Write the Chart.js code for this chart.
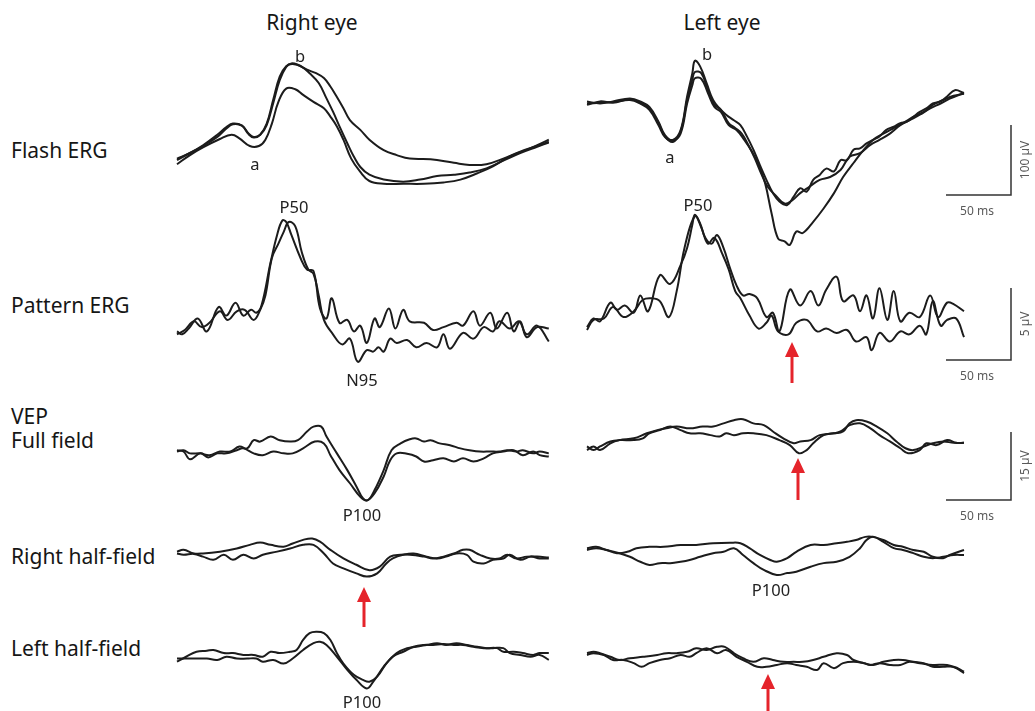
<!DOCTYPE html>
<html>
<head>
<meta charset="utf-8">
<script src="https://cdn.jsdelivr.net/npm/chart.js@4.4.0/dist/chart.umd.min.js"></script>
<style>
  body { margin: 0; background: #fff; width: 1035px; height: 711px; position: relative; overflow: hidden;
         font-family: "Noto Sans", "DejaVu Sans", sans-serif; color: #161616; }
  canvas { position: absolute; }
  .lbl { position: absolute; white-space: nowrap; line-height: 1; }
  .title { font-size: 21px; transform: translate(-50%, -50%); }
  .row { font-size: 21px; transform: translateY(-50%); }
  .peak { font-size: 16.5px; transform: translate(-50%, -50%); color: #222; }
  #overlay { position: absolute; left: 0; top: 0; pointer-events: none; }
  #overlay text { font-family: "Noto Sans", sans-serif; font-size: 12px; fill: #5a5a5a; }
</style>
</head>
<body>
<script>
// Waveforms: each point is [time ms, amplitude µV]
// Flash ERG, right eye (3 sweeps)
const flashRightA = [[0,0],[10,10],[20,20],[31,33],[38,45],[43,51],[50,49],[55,38],[59,33],[64,36],[69,50],[74,81],[79,114],[84,133],[88,138],[93,136],[100,129],[107,124],[113,117],[118,105],[123,90],[128,74],[133,57],[141,43],[148,29],[159,14],[169,7],[179,2],[195,1],[213,-4],[225,-7],[238,-6],[251,2],[264,12],[277,20],[286,26]];
const flashRightB = [[0,2],[10,10],[20,21],[31,36],[38,47],[43,52],[50,49],[55,37],[59,32],[64,36],[69,52],[74,86],[79,119],[84,134],[89,137],[96,133],[102,124],[109,110],[115,88],[120,69],[125,48],[131,24],[136,5],[141,-10],[148,-21],[159,-28],[174,-31],[187,-28],[200,-23],[213,-21],[225,-18],[238,-12],[251,-1],[264,10],[277,19],[286,25]];
const flashRightC = [[0,-6],[10,7],[20,18],[33,30],[42,36],[48,31],[56,20],[63,20],[68,29],[73,52],[78,83],[84,102],[91,101],[97,93],[105,83],[113,74],[118,62],[123,48],[128,29],[134,2],[141,-17],[148,-30],[159,-34],[174,-34],[190,-34],[205,-32],[218,-28],[231,-19],[243,-9],[256,5],[272,17],[286,29]];

// Flash ERG, left eye (3 sweeps)
const flashLeftA = [[0,-2],[10,-5],[20,-2],[33,2],[41,-2],[48,-10],[55,-31],[60,-50],[66,-57],[72,-43],[77,5],[81,38],[83,56],[87,48],[92,24],[97,0],[102,-12],[107,-21],[113,-29],[118,-36],[123,-52],[128,-71],[133,-93],[138,-114],[143,-133],[148,-145],[154,-150],[159,-138],[164,-126],[169,-131],[174,-114],[179,-107],[184,-98],[190,-102],[195,-86],[200,-86],[205,-71],[210,-69],[215,-62],[220,-57],[225,-52],[230,-43],[236,-38],[241,-33],[246,-31],[251,-24],[256,-17],[261,-12],[266,-5],[272,-2],[277,5],[283,14],[290,10]];
const flashLeftB = [[0,-7],[10,-2],[20,-4],[33,1],[41,-4],[48,-12],[55,-33],[60,-52],[66,-60],[72,-45],[77,0],[81,29],[83,40],[88,38],[93,14],[98,-7],[103,-14],[109,-33],[114,-40],[119,-48],[124,-64],[129,-83],[134,-105],[139,-124],[146,-138],[152,-148],[158,-143],[164,-133],[171,-124],[179,-114],[187,-110],[195,-100],[202,-81],[210,-76],[218,-64],[225,-57],[233,-48],[241,-36],[248,-29],[256,-21],[264,-12],[272,-5],[279,2],[290,10]];
const flashLeftC = [[0,-5],[10,-4],[20,-3],[33,0],[41,-5],[48,-14],[55,-36],[60,-53],[66,-58],[72,-48],[77,-5],[81,21],[83,31],[88,30],[93,10],[98,-10],[103,-17],[109,-36],[115,-43],[121,-57],[127,-74],[132,-93],[137,-119],[142,-162],[147,-198],[152,-202],[156,-207],[161,-188],[166,-190],[174,-174],[182,-155],[190,-133],[197,-110],[205,-90],[213,-71],[220,-57],[228,-48],[236,-40],[243,-33],[251,-24],[259,-17],[266,-7],[274,0],[282,6],[290,9]];

// Pattern ERG
const patternRightA = [[0,-0.1],[4,-0.3],[9,0.1],[16,0.8],[23,-0.1],[32,1.6],[38,1.0],[45,1.9],[51,1.0],[57,1.4],[61,1.2],[65,1.7],[72,4.7],[77,6.6],[81,7.6],[84,7.5],[88,6.6],[95,5.0],[100,4.2],[105,4.1],[110,1.5],[115,0.8],[119,2.2],[125,0.5],[131,0.7],[136,-0.1],[141,0.3],[146,-0.9],[152,0.8],[156,0.2],[163,1.5],[168,0.1],[174,1.4],[179,0.6],[190,0.5],[197,0],[205,0.2],[215,0.5],[220,0.3],[228,1.3],[233,0.3],[241,1.2],[246,0.1],[254,1.2],[259,-0.1],[264,0.6],[269,-0.5],[277,0.2],[286,0.1]];
const patternRightB = [[0,-0.3],[6,0],[13,0.6],[19,0.2],[25,0.5],[33,1.3],[39,0.7],[46,1.3],[52,1.4],[59,0.7],[64,1.4],[68,2.4],[73,5.0],[78,6.0],[82,6.8],[86,7.5],[91,7.2],[96,5.4],[101,4.2],[105,3.9],[109,2.4],[113,0.7],[120,-0.3],[127,-1.0],[133,-0.6],[139,-2.2],[146,-1.4],[151,-1.5],[155,-1.2],[159,-1.5],[164,-0.6],[169,-0.9],[177,-0.7],[184,-1.2],[192,-0.9],[200,-1.2],[205,-0.3],[210,-1.3],[220,-0.2],[228,-0.6],[236,0.2],[243,-0.1],[248,0.6],[256,0.1],[263,0.6],[269,-0.3],[277,0.3],[286,-0.8]];
const patternLeftA = [[0,0.2],[5,0.8],[10,0.6],[18,1.9],[23,1.4],[29,1.7],[36,1.2],[41,2.4],[47,1.3],[56,3.8],[64,3.2],[72,4.5],[77,5.7],[81,7.3],[83,8.0],[87,7.4],[91,6.4],[96,6.0],[100,6.6],[105,5.7],[110,4.3],[115,3.1],[120,2.4],[125,2.5],[131,2.2],[138,0.9],[143,1.2],[148,-0.1],[156,2.8],[164,1.7],[172,2.7],[178,1.7],[184,2.8],[192,3.7],[197,2.0],[205,2.4],[210,1.3],[215,2.4],[220,0.8],[225,2.9],[231,0.7],[236,2.7],[241,0.6],[248,1.2],[256,0.9],[264,2.4],[270,0.9],[277,1.9],[282,1.8],[290,1.3]];
const patternLeftB = [[0,0],[5,0.7],[13,0.8],[20,1.6],[28,0.9],[36,1.3],[43,2.1],[50,2.2],[56,2.0],[63,0.9],[69,2.7],[75,5.7],[83,7.9],[88,7.1],[93,6.0],[98,6.4],[104,5.3],[109,4.2],[114,2.7],[118,2.2],[125,1.0],[132,0.1],[138,0.5],[142,1.0],[147,-0.1],[155,-0.3],[161,0.5],[169,0.7],[177,-0.1],[184,0.1],[192,-0.2],[200,0],[207,-0.8],[215,-0.5],[219,-1.4],[225,-0.2],[233,-0.8],[241,-0.1],[248,-0.3],[256,0.3],[261,-0.3],[266,2.0],[272,0.3],[277,0.7],[284,0.8],[290,-0.5]];

// VEP, full field
const vepFullRightA = [[0,0.1],[5,0.4],[10,-0.3],[18,-0.3],[25,-0.7],[33,0.1],[41,0.1],[48,1.2],[54,0.8],[59,2.6],[64,2.3],[72,3.4],[79,2.6],[87,2.3],[93,2.6],[100,4.5],[105,5.6],[111,5.6],[115,3.4],[123,-0.3],[131,-4.0],[138,-7.6],[143,-10.2],[147,-10.6],[152,-8.4],[159,-4.0],[165,0.4],[172,1.9],[179,2.8],[184,3.0],[190,2.3],[195,2.6],[202,1.9],[210,1.5],[218,0.8],[225,0.4],[233,0.1],[241,0.1],[248,0.1],[254,0.4],[261,0.1],[266,0.4],[274,-0.3],[279,0.1],[286,-0.3]];
const vepFullRightB = [[0,0.4],[5,0.1],[10,-1.6],[18,-0.3],[24,-1.2],[31,-0.3],[38,-0.3],[46,0.4],[51,0.8],[59,-0.3],[66,-0.7],[74,0.1],[82,-0.3],[89,-0.3],[97,0.8],[106,2.3],[113,1.9],[118,-0.7],[125,-4.0],[133,-6.9],[141,-9.9],[146,-10.7],[152,-9.1],[159,-5.4],[164,-1.8],[169,-0.3],[177,-0.4],[184,-1.0],[190,-2.1],[197,-1.8],[205,-1.4],[213,-2.1],[220,-1.4],[228,-2.1],[236,-1.4],[243,-0.3],[251,0.1],[259,0.4],[266,-0.7],[274,0.1],[279,-0.7],[286,-1.0]];
const vepFullLeftA = [[0,-0.9],[5,-0.1],[10,-0.9],[18,0.6],[25,1.3],[36,1.7],[46,2.8],[54,3.5],[61,3.9],[69,4.3],[79,3.9],[89,4.3],[97,4.3],[105,5.0],[113,5.7],[120,5.9],[128,5.0],[136,4.6],[143,3.2],[151,1.7],[159,0.6],[164,1.0],[172,1.3],[179,2.4],[190,2.8],[197,3.2],[202,5.0],[207,5.7],[215,5.4],[223,4.3],[231,2.8],[238,1.0],[245,-0.5],[251,-0.9],[259,-0.1],[266,0.6],[274,1.0],[282,0.7],[290,0.7]];
const vepFullLeftB = [[0,-0.1],[5,-0.9],[10,-0.1],[18,1.0],[25,1.3],[36,1.3],[43,1.7],[48,2.8],[56,3.5],[64,4.3],[72,3.5],[79,2.8],[87,2.8],[95,2.4],[102,2.1],[107,2.8],[113,2.4],[120,2.8],[128,2.8],[138,2.4],[148,1.3],[156,0.2],[163,-1.6],[169,-0.9],[174,0.6],[182,2.4],[190,2.8],[195,3.2],[202,4.6],[210,5.0],[218,3.9],[225,2.4],[233,1.0],[241,-0.5],[247,-1.6],[256,-0.9],[261,0.6],[269,0.2],[277,1.3],[284,0.7],[290,0.7]];

// VEP, right half-field
const rightHalfRightA = [[0,0.3],[5,0.7],[13,-0.1],[20,-0.1],[33,0.3],[46,1.0],[56,1.8],[64,2.3],[72,1.8],[82,1.4],[89,2.1],[97,2.9],[104,3.2],[110,2.5],[118,0.7],[128,-1.2],[138,-2.6],[148,-3.8],[156,-3.0],[164,-0.8],[172,-0.4],[179,-0.4],[190,-0.8],[197,-1.2],[205,-0.8],[213,-0.1],[220,0.7],[225,0.7],[233,-0.4],[241,-1.2],[248,-1.2],[254,-0.4],[261,-1.2],[269,-0.8],[277,-0.8],[286,-1.0]];
const rightHalfRightB = [[0,-0.1],[5,-0.4],[13,-0.2],[20,-0.8],[28,-1.5],[36,-0.4],[43,-1.5],[51,-0.4],[59,-1.2],[66,-0.4],[77,0.3],[87,1.0],[97,1.8],[105,1.8],[113,-0.1],[120,-2.3],[128,-3.4],[138,-4.5],[146,-5.2],[154,-4.5],[161,-2.3],[166,-1.2],[174,-0.4],[182,-0.1],[192,-0.8],[200,-1.2],[207,-0.8],[215,-0.1],[223,-0.4],[228,-1.9],[236,-2.3],[243,-1.5],[251,-1.2],[256,-0.4],[264,-1.5],[272,-0.8],[279,-1.2],[286,-1.2]];
const rightHalfLeftA = [[0,0.4],[7,0.7],[15,0],[23,-0.7],[31,-0.4],[38,0.4],[48,0.7],[59,0.7],[72,1.1],[84,1.1],[97,1.5],[110,1.6],[118,1.5],[125,0.4],[133,-1.1],[141,-2.2],[146,-2.6],[154,-1.8],[161,-0.4],[172,1.1],[182,1.1],[192,1.5],[200,1.8],[207,2.2],[214,2.9],[220,2.9],[228,2.2],[236,1.1],[243,0.7],[251,0],[259,-0.4],[266,-1.5],[274,-1.8],[279,-1.1],[290,0]];
const rightHalfLeftB = [[0,0],[7,0.4],[15,0],[25,-0.7],[33,-1.5],[41,-2.6],[48,-3.3],[56,-2.9],[64,-2.9],[72,-2.6],[79,-2.2],[87,-1.5],[97,-0.7],[105,-0.4],[113,0.4],[120,-1.1],[128,-2.9],[136,-4.4],[146,-5.5],[154,-5.1],[161,-4.8],[172,-3.7],[182,-2.9],[192,-2.6],[202,-1.5],[210,0.4],[215,2.2],[220,2.9],[228,1.8],[236,0.4],[243,0],[251,-0.7],[259,-1.5],[266,-1.8],[274,-1.5],[282,-1.1],[290,-1.1]];

// VEP, left half-field
const leftHalfRightA = [[0,-0.6],[7,0.5],[15,1.6],[23,1.8],[28,2.0],[36,1.3],[43,1.3],[51,0.9],[59,0.9],[66,0.5],[72,1.6],[79,1.3],[87,1.6],[92,2.0],[97,4.2],[102,5.7],[107,6.0],[113,5.7],[118,4.2],[123,1.3],[128,-1.0],[136,-3.5],[143,-4.6],[148,-5.0],[154,-3.9],[161,-1.0],[169,1.3],[177,2.4],[184,2.7],[192,3.1],[200,3.5],[207,3.1],[215,3.5],[223,3.1],[231,2.7],[238,2.4],[246,2.4],[251,1.6],[259,1.6],[266,1.3],[274,0.9],[279,1.3],[286,1.3]];
const leftHalfRightB = [[0,0.1],[7,0.1],[15,0.1],[23,0.1],[31,-0.2],[38,0.5],[46,0.1],[54,0.1],[61,0.1],[66,-0.6],[74,-0.2],[82,-1.0],[89,0.1],[97,2.0],[105,3.5],[110,3.8],[115,3.1],[123,0.5],[131,-2.4],[138,-4.6],[146,-6.5],[151,-5.0],[159,-1.7],[166,0.5],[174,1.6],[182,2.7],[190,3.1],[197,3.1],[205,3.3],[213,3.1],[220,3.1],[228,2.7],[236,2.4],[243,2.4],[251,2.4],[256,1.3],[264,0.9],[272,0.5],[279,0.9],[286,-0.2]];
const leftHalfLeftA = [[0,0.4],[5,0.7],[10,0.4],[18,-0.4],[25,-1.1],[33,-0.7],[43,-0.4],[54,0],[61,0.4],[69,0.4],[77,0.7],[84,1.5],[92,1.1],[100,1.8],[106,1.8],[113,0.4],[120,-0.7],[128,-1.5],[136,-0.7],[143,-1.1],[151,-1.5],[159,-1.5],[166,-1.5],[174,-1.1],[182,-0.4],[192,0.4],[200,0],[205,-1.1],[213,-1.8],[220,-2.2],[228,-1.5],[236,-1.1],[243,-1.1],[251,-1.5],[259,-1.8],[266,-2.6],[274,-2.6],[282,-2.6],[290,-3.7]];
const leftHalfLeftB = [[0,0],[5,0.4],[13,0],[20,-1.1],[28,-1.1],[36,-1.8],[42,-2.6],[48,-1.8],[56,-1.1],[64,-0.7],[72,0],[79,-0.4],[84,0.4],[92,1.5],[100,0.4],[107,1.1],[115,-0.4],[123,-1.5],[131,-2.6],[138,-2.6],[146,-2.2],[154,-1.8],[161,-2.2],[169,-2.6],[177,-3.3],[182,-1.8],[190,-2.9],[197,-1.8],[205,-1.5],[213,-1.8],[218,-2.2],[225,-1.8],[233,-2.2],[241,-2.2],[248,-1.5],[256,-1.8],[266,-2.2],[277,-2.2],[284,-2.9],[290,-4.0]];

const columnTitles = ['Right eye', 'Left eye'];
const rowTitles = ['Flash ERG', 'Pattern ERG', 'VEP', 'Full field', 'Right half-field', 'Left half-field'];

// layout
const PX_PER_MS = 1.3;          // 50 ms bar = 65 px
const UV_FLASH = 0.7;           // px per µV (100 µV bar = 70 px)
const UV_PATTERN = 14.4;        // 5 µV bar = 72 px
const UV_VEP = 4.53;            // 15 µV bar = 68 px
const COL_X = [177, 587];
const PANEL_W = 390;
const PAD = 6;

function drawPanel(col, top, height, baseline, pxPerUv, traces) {
    const canvas = document.createElement('canvas');
    canvas.width = PANEL_W + 2 * PAD;
    canvas.height = height;
    canvas.style.left = (COL_X[col] - PAD) + 'px';
    canvas.style.top = top + 'px';
    document.body.appendChild(canvas);

    new Chart(canvas, {
        type: 'line',
        data: {
            datasets: traces.map(tr => ({
                data: tr.map(p => ({ x: p[0], y: p[1] })),
                borderColor: '#1c1c1c',
                borderWidth: 2,
                pointRadius: 0,
                tension: 0.4,
                fill: false,
                clip: false
            }))
        },
        options: {
            responsive: false,
            animation: false,
            devicePixelRatio: 1,
            events: [],
            layout: { padding: 0 },
            plugins: { legend: { display: false }, tooltip: { enabled: false } },
            scales: {
                x: { type: 'linear', display: false, min: -PAD / PX_PER_MS, max: (PANEL_W + PAD) / PX_PER_MS },
                y: { display: false, min: -(top + height - baseline) / pxPerUv, max: (baseline - top) / pxPerUv }
            }
        }
    });
}

drawPanel(0, 45, 160, 160, UV_FLASH, [flashRightA, flashRightB, flashRightC]);
drawPanel(1, 45, 210, 100, UV_FLASH, [flashLeftA, flashLeftB, flashLeftC]);
drawPanel(0, 210, 170, 330, UV_PATTERN, [patternRightA, patternRightB]);
drawPanel(1, 205, 160, 330, UV_PATTERN, [patternLeftA, patternLeftB]);
drawPanel(0, 410, 105, 452, UV_VEP, [vepFullRightA, vepFullRightB]);
drawPanel(1, 405, 80, 446, UV_VEP, [vepFullLeftA, vepFullLeftB]);
drawPanel(0, 528, 60, 553, UV_VEP, [rightHalfRightA, rightHalfRightB]);
drawPanel(1, 528, 60, 550, UV_VEP, [rightHalfLeftA, rightHalfLeftB]);
drawPanel(0, 618, 80, 659, UV_VEP, [leftHalfRightA, leftHalfRightB]);
drawPanel(1, 630, 50, 655, UV_VEP, [leftHalfLeftA, leftHalfLeftB]);

// text
function addLabel(text, cls, x, y) {
    const d = document.createElement('div');
    d.className = 'lbl ' + cls;
    d.textContent = text;
    d.style.left = x + 'px';
    d.style.top = y + 'px';
    document.body.appendChild(d);
}
addLabel(columnTitles[0], 'title', 312, 22);
addLabel(columnTitles[1], 'title', 722, 22);
[150, 305, 416, 440, 556, 648].forEach((y, i) => addLabel(rowTitles[i], 'row', 11, y));

addLabel('b', 'peak', 300, 56);
addLabel('a', 'peak', 255, 164);
addLabel('b', 'peak', 707, 54);
addLabel('a', 'peak', 670, 157);
addLabel('P50', 'peak', 294, 207);
addLabel('N95', 'peak', 362, 380);
addLabel('P50', 'peak', 698, 205);
addLabel('P100', 'peak', 362, 515);
addLabel('P100', 'peak', 771, 590);
addLabel('P100', 'peak', 362, 702);

// scale bars and red arrows
const svgNS = 'http://www.w3.org/2000/svg';
const svg = document.createElementNS(svgNS, 'svg');
svg.setAttribute('id', 'overlay');
svg.setAttribute('width', 1035);
svg.setAttribute('height', 711);
document.body.appendChild(svg);

function el(name, attrs, text) {
    const e = document.createElementNS(svgNS, name);
    for (const k in attrs) e.setAttribute(k, attrs[k]);
    if (text) e.textContent = text;
    svg.appendChild(e);
    return e;
}

[[125, 195, '100 µV'], [288, 360, '5 µV'], [432, 500, '15 µV']].forEach(([y1, y2, amp]) => {
    el('path', { d: `M1011 ${y1} V${y2} H946`, stroke: '#333', 'stroke-width': 1.5, fill: 'none' });
    el('text', { x: 977, y: y2 + 20, 'text-anchor': 'middle' }, '50 ms');
    const cy = (y1 + y2) / 2;
    el('text', { x: 0, y: 0, 'text-anchor': 'middle', transform: `translate(1029 ${cy}) rotate(-90)` }, amp);
});

[[364, 587, 627], [792, 342, 383], [798, 458, 500], [768, 674, 711]].forEach(([x, tip, end]) => {
    el('line', { x1: x, y1: end, x2: x, y2: tip + 12, stroke: '#e5242b', 'stroke-width': 3 });
    el('polygon', { points: `${x - 7},${tip + 15} ${x + 7},${tip + 15} ${x},${tip}`, fill: '#e5242b' });
});
</script>
</body>
</html>
